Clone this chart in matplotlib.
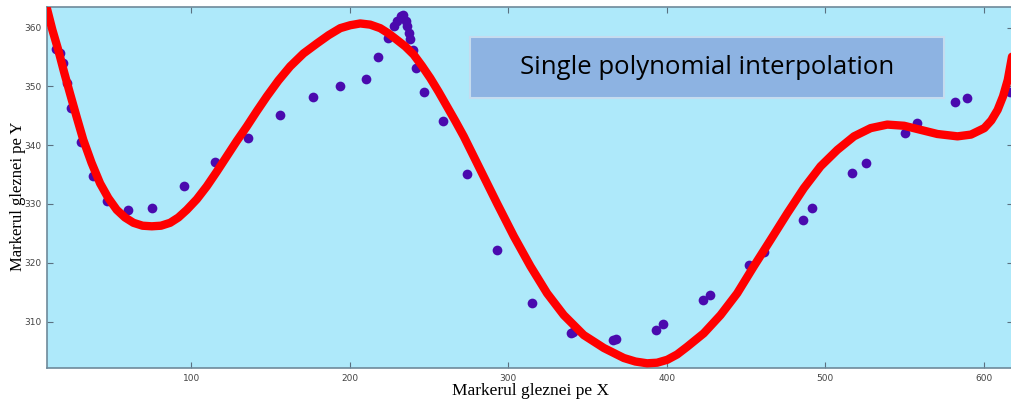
import numpy as np
import matplotlib.pyplot as plt
from matplotlib.patches import Rectangle

pts_x = [14.8, 17.5, 19.4, 21.5, 24.5, 30.5, 37.9, 47.2, 60.1, 75.6, 95.8, 115.0, 136.1,
         155.9, 176.8, 194.1, 210.1, 218.1, 224.0, 227.7, 229.9, 232.4, 233.6, 235.3,
         236.4, 237.4, 238.3, 239.9, 242.0, 247.1, 259.1, 274.0, 293.0, 315.1, 339.6,
         341.0, 366.4, 367.8, 393.0, 397.6, 423.0, 427.6, 452.0, 461.3, 485.9, 492.0,
         517.1, 525.7, 550.3, 557.7, 581.9, 589.3, 616.5]
pts_y = [356.4, 355.6, 353.9, 350.6, 346.3, 340.6, 334.7, 330.5, 328.9, 329.3, 333.1, 337.1,
         341.2, 345.1, 348.2, 350.1, 351.3, 355.0, 358.3, 360.3, 361.2, 361.9, 362.2, 361.2,
         360.2, 359.1, 358.1, 356.2, 353.1, 349.1, 344.1, 335.1, 322.2, 313.1, 308.1,
         308.3, 306.8, 307.0, 308.6, 309.6, 313.7, 314.5, 319.6, 321.8, 327.3, 329.3,
         335.2, 337.0, 342.0, 343.7, 347.3, 348.0, 349.1]

# interpolating polynomial
curve_x = [9.1, 12.5, 16.2, 19.8, 23.6, 27.8, 32.0, 37.2, 42.6, 47.8, 53.1, 58.3, 63.6,
           69.4, 75.2, 81.0, 86.8, 92.0, 97.3, 103.6, 109.9, 116.2, 122.5, 128.8, 135.2,
           141.5, 147.8, 155.1, 162.5, 170.9, 179.4, 186.7, 194.1, 200.4, 206.7, 213.0,
           219.3, 224.6, 229.9, 235.1, 240.4, 245.6, 250.9, 256.1, 261.4, 266.7, 272.0,
           282.5, 293.0, 303.6, 314.1, 324.6, 335.1, 347.7, 360.4, 373.0, 380.3, 387.7,
           394.0, 400.4, 406.6, 412.9, 423.4, 434.0, 444.5, 455.0, 465.6, 476.1, 486.6,
           497.1, 507.7, 518.2, 528.7, 539.2, 549.8, 560.3, 570.8, 583.5, 592.0, 600.4,
           604.8, 608.8, 612.2, 615.2, 617.9]
curve_y = [363.2, 359.6, 356.2, 352.5, 348.8, 344.8, 340.9, 337.0, 333.5, 331.0, 329.0,
           327.7, 326.8, 326.3, 326.2, 326.3, 326.8, 327.7, 329.0, 330.8, 333.0, 335.5,
           338.1, 340.7, 343.2, 345.8, 348.3, 351.0, 353.4, 355.6, 357.3, 358.7, 359.9,
           360.4, 360.7, 360.5, 359.9, 359.0, 357.9, 356.8, 355.4, 353.5, 351.4, 349.1,
           346.6, 344.1, 341.5, 335.8, 330.1, 324.5, 319.4, 314.8, 311.1, 307.7, 305.5,
           303.8, 303.2, 302.9, 303.0, 303.5, 304.4, 305.7, 308.0, 311.1, 314.8, 319.4,
           323.9, 328.4, 332.7, 336.4, 339.2, 341.5, 342.9, 343.5, 343.3, 342.6, 341.9,
           341.5, 341.8, 342.9, 344.2, 346.0, 348.3, 351.1, 355.1]

x_ticks = [100, 200, 300, 400, 500, 600]
y_ticks = [310, 320, 330, 340, 350, 360]

fig = plt.figure(figsize=(10.11, 4.04), dpi=100)
ax = fig.add_axes([47 / 1011, 1 - 368 / 404, 966 / 1011, 361 / 404])
ax.set_facecolor('#aee9fa')

ax.plot(pts_x, pts_y, 'o', color='#4a0aae', ms=7, mec='none', zorder=2)
ax.plot(curve_x, curve_y, color='#ff0000', lw=6, solid_capstyle='round', zorder=3)

ax.set_xlim(9.1, 618.5)
ax.set_ylim(302.1, 363.5)
ax.set_xticks(x_ticks)
ax.set_yticks(y_ticks)
ax.tick_params(direction='in', length=4, width=0.8, color='#5a7080', labelsize=6.5,
               labelcolor='#444444', top=True, right=True, pad=4)
for s in ax.spines.values():
    s.set_color('#6e8a9a')
    s.set_linewidth(1.2)

ax.set_xlabel('Markerul gleznei pe X', family='Liberation Serif', fontsize=12.5, labelpad=0)
ax.set_ylabel('Markerul gleznei pe Y', family='Liberation Serif', fontsize=12)
ax.yaxis.set_label_coords(-0.022, 0.475)

# annotation box
ax.add_patch(Rectangle((0.438, 0.748), 0.491, 0.169, transform=ax.transAxes,
                       fc='#8db3e2', ec='#c5dcef', lw=1.5, zorder=5))
ax.text(0.683, 0.832, 'Single polynomial interpolation', transform=ax.transAxes,
        fontsize=18.5, family='Open Sans', ha='center', va='center', zorder=6)

fig.savefig('out.png', dpi=100)
